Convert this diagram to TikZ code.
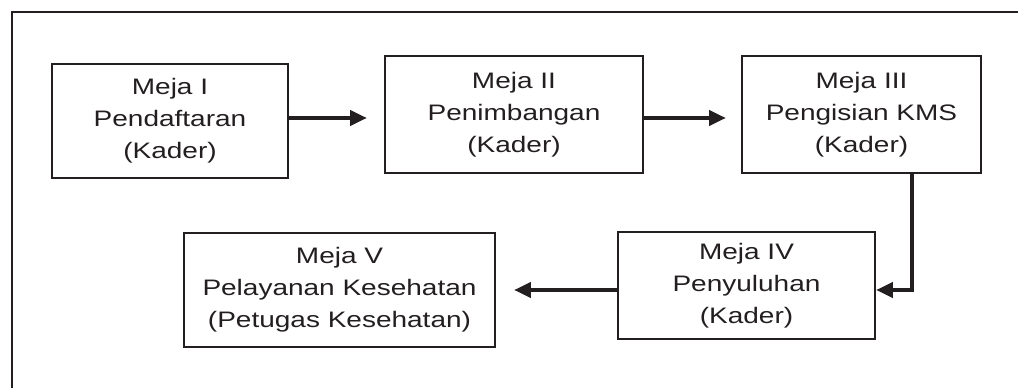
\documentclass[tikz,border=0pt]{standalone}
\usepackage{fontspec}
\setmainfont{Liberation Sans}[FakeStretch=1.25]
\usetikzlibrary{arrows.meta}
\definecolor{ink}{HTML}{231F20}
\tikzset{
  box/.style={draw=ink, line width=1.9pt, rectangle, align=center, text=ink,
    font=\fontsize{16.8pt}{24pt}\selectfont, inner sep=0pt},
  arr/.style={draw=ink, line width=2.3pt, -{Triangle[length=12.5pt,width=11.5pt]}},
  frame/.style={draw=ink, line width=1.9pt}
}
\begin{document}
\begin{tikzpicture}[x=0.75pt,y=-0.75pt]
\useasboundingbox (0,0) rectangle (1018,388);
% outer frame (only top and left edges visible)
\coordinate (fbl) at (12,400);
\coordinate (ftl) at (12,12);
\coordinate (ftr) at (1030,12);
\draw[frame] (fbl) -- (ftl) -- (ftr);
% boxes
\node[box, minimum width=236*0.75pt, minimum height=114*0.75pt] (b1) at (170,121)
  {Meja I\\Pendaftaran\\(Kader)};
\node[box, minimum width=258*0.75pt, minimum height=117*0.75pt] (b2) at (514,114.5)
  {Meja II\\Penimbangan\\(Kader)};
\node[box, minimum width=239*0.75pt, minimum height=117*0.75pt] (b3) at (861.5,114.5)
  {Meja III\\Pengisian KMS\\(Kader)};
\node[box, minimum width=257*0.75pt, minimum height=107*0.75pt] (b4) at (746.5,285.5)
  {Meja IV\\Penyuluhan\\(Kader)};
\node[box, minimum width=311*0.75pt, minimum height=114*0.75pt] (b5) at (339.5,290)
  {Meja V\\Pelayanan Kesehatan\\(Petugas Kesehatan)};
% connectors
\coordinate (y1) at (0,118);
\coordinate (turn) at (912,290);
\draw[arr, shorten >=12.75pt] (b1.east |- y1) -- (b2.west |- y1);
\draw[arr, shorten >=11.25pt] (b2.east |- y1) -- (b3.west |- y1);
\draw[arr] (b3.south -| turn) -- (turn) -- (b4.east |- turn);
\draw[arr, shorten >=13.5pt] (b4.west |- turn) -- (b5.east |- turn);
\end{tikzpicture}
\end{document}
